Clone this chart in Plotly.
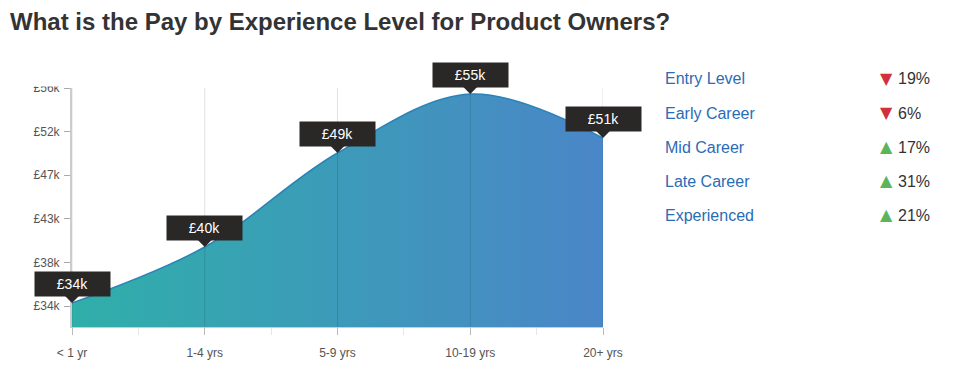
import plotly.graph_objects as go

# ---- data ----
categories = ["< 1 yr", "1-4 yrs", "5-9 yrs", "10-19 yrs", "20+ yrs"]
pay_k = [34.4, 40.0, 49.4, 55.3, 50.9]
pay_labels = ["£34k", "£40k", "£49k", "£55k", "£51k"]
y_tickvals = [34.1, 38.46, 42.82, 47.18, 51.54, 55.9]
y_ticktext = ["£34k", "£38k", "£43k", "£47k", "£52k", "£56k"]
levels = ["Entry Level", "Early Career", "Mid Career", "Late Career", "Experienced"]
changes = [-19, -6, 17, 31, 21]

OFF = 8  # page body margin in the browser
W, H = 960 - OFF, 377 - OFF
# desired plot box in screen pixels: x 72..603, y 88..327
L, T = 72 - OFF, 88 - OFF
R = 960 - 603
B = 377 - 327
PW, PH = W - L - R, H - T - B

def px_x(px):
    return (px - OFF - L) / PW

def px_y(py):
    return (H - B - (py - OFF)) / PH

xs = list(range(len(categories)))
FONT = "Liberation Sans, Arial, sans-serif"

fig = go.Figure()
fig.add_trace(go.Scatter(
    x=xs, y=pay_k, mode="lines",
    line=dict(shape="spline", smoothing=1.0, color="#2b83b6", width=1.5),
    fill="tozeroy",
    fillgradient=dict(type="horizontal",
                      colorscale=[[0, "#2fafa9"], [1, "#4a86c8"]]),
    hoverinfo="skip", showlegend=False,
))

# vertical grid lines drawn over the area
for xv in xs:
    fig.add_shape(type="line", xref="x", yref="paper", x0=xv, x1=xv, y0=0, y1=1,
                  line=dict(color="rgba(0,0,0,0.12)", width=1), layer="above")

# value tooltips
for xv, v, lab in zip(xs, pay_k, pay_labels):
    fig.add_annotation(
        x=xv, y=v, xref="x", yref="y", text=lab,
        showarrow=True, ax=0, ay=-19, axref="pixel", ayref="pixel",
        arrowhead=1, arrowsize=2.4, arrowwidth=1, arrowcolor="#2a2727",
        standoff=0,
        font=dict(family=FONT, size=14, color="white"),
        bgcolor="#2a2727", width=71, height=20, borderpad=2,
    )

# clip the top tick label like the original
fig.add_shape(type="rect", xref="paper", yref="paper",
              x0=px_x(0), x1=px_x(70), y0=px_y(86.5), y1=px_y(40),
              fillcolor="white", line=dict(width=0), layer="above")

# right-hand table
for i, (name, ch) in enumerate(zip(levels, changes)):
    py = 79 + 34 * i
    fig.add_annotation(x=px_x(663), y=px_y(py), xref="paper", yref="paper",
                       text=name, showarrow=False, xanchor="left", yanchor="middle",
                       font=dict(family=FONT, size=16, color="#2a6cb5"))
    up = ch > 0
    fig.add_annotation(x=px_x(886), y=px_y(py - 1), xref="paper", yref="paper",
                       text="▲" if up else "▼", showarrow=False, xanchor="center", yanchor="middle",
                       font=dict(family="DejaVu Sans", size=16, color="#5cb55c" if up else "#d0313a"))
    fig.add_annotation(x=px_x(896), y=px_y(py), xref="paper", yref="paper",
                       text=f"{abs(ch)}%", showarrow=False, xanchor="left", yanchor="middle",
                       font=dict(family=FONT, size=16, color="#333333"))

fig.update_layout(
    width=W, height=H,
    margin=dict(l=L, r=R, t=T, b=B, pad=0),
    paper_bgcolor="white", plot_bgcolor="white",
    title=dict(text="<b>What is the Pay by Experience Level for Product Owners?</b>",
               x=(10 - OFF) / W, xanchor="left", xref="container",
               y=1 - (22 - OFF) / H, yanchor="middle", yref="container",
               font=dict(family=FONT, size=24, color="#333333")),
    xaxis=dict(range=[0, 4], tickvals=xs, ticktext=categories,
               showgrid=False, zeroline=False,
               showline=True, linecolor="rgba(0,0,0,0.2)", linewidth=1,
               ticks="outside", ticklen=7, tickcolor="#bbbbbb", tickwidth=1,
               minor=dict(dtick=0.5, tick0=0, ticks="outside", ticklen=7, tickcolor="#e6e6e6"),
               tickfont=dict(family=FONT, size=12, color="#555555"),
               ticklabelstandoff=8, layer="above traces", fixedrange=True),
    yaxis=dict(range=[32.0, 55.9], tickvals=y_tickvals, ticktext=y_ticktext,
               showgrid=False, zeroline=False,
               showline=True, linecolor="#cccccc", linewidth=2,
               ticks="outside", ticklen=6, tickcolor="#aaaaaa",
               tickfont=dict(family=FONT, size=12, color="#555555"),
               ticklabelstandoff=2, fixedrange=True),
)

fig.write_html("out.html")
